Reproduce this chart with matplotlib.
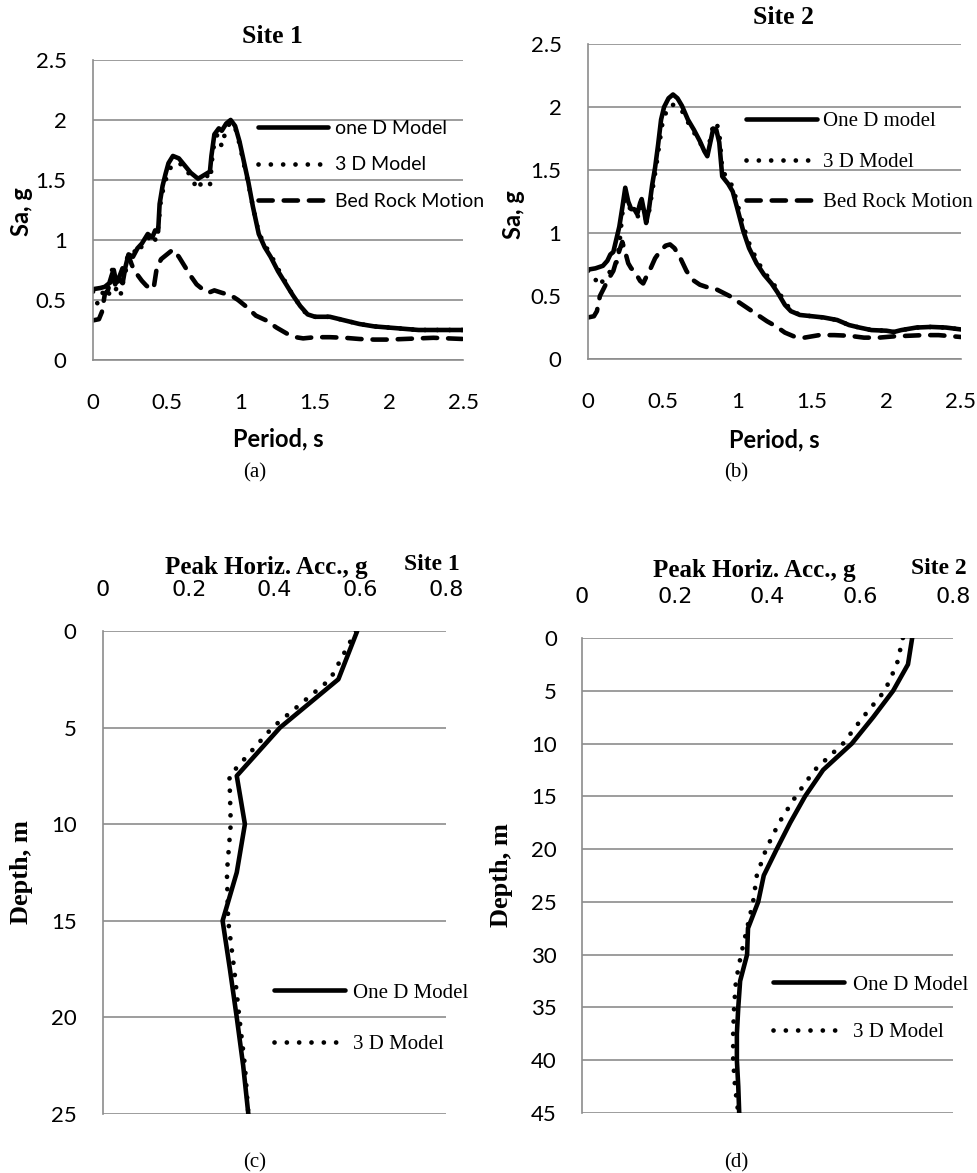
import numpy as np
import matplotlib
matplotlib.use("Agg")
import matplotlib.pyplot as plt
from matplotlib.ticker import FuncFormatter

# ---- data ----
# (a) Site 1 response spectra
a_t_1d = [0, 0.05, 0.08, 0.11, 0.13, 0.15, 0.17, 0.2, 0.22, 0.24, 0.27, 0.3, 0.33, 0.37, 0.4,
          0.42, 0.44, 0.45, 0.47, 0.49, 0.51, 0.54, 0.58, 0.62, 0.66, 0.71, 0.75, 0.79, 0.8,
          0.82, 0.85, 0.87, 0.9, 0.93, 0.96, 0.99, 1.02, 1.05, 1.08, 1.12, 1.16, 1.2, 1.25,
          1.3, 1.35, 1.4, 1.45, 1.5, 1.6, 1.7, 1.8, 1.9, 2.0, 2.1, 2.2, 2.3, 2.4, 2.5]
a_sa_1d = [0.59, 0.60, 0.61, 0.64, 0.72, 0.63, 0.68, 0.64, 0.78, 0.88, 0.86, 0.93, 0.97, 1.05, 1.02,
           1.08, 1.07, 1.30, 1.45, 1.55, 1.64, 1.70, 1.68, 1.62, 1.56, 1.51, 1.54, 1.57, 1.70,
           1.88, 1.93, 1.91, 1.97, 2.00, 1.95, 1.82, 1.65, 1.48, 1.28, 1.05, 0.94, 0.86, 0.74,
           0.64, 0.54, 0.45, 0.38, 0.36, 0.36, 0.33, 0.30, 0.28, 0.27, 0.26, 0.25, 0.25, 0.25, 0.25]
a_t_3d = [0, 0.03, 0.06, 0.09, 0.11, 0.13, 0.15, 0.17, 0.19, 0.21, 0.24, 0.27, 0.3, 0.33, 0.36,
          0.39, 0.42, 0.44, 0.46, 0.48, 0.51, 0.55, 0.6, 0.65, 0.68, 0.71, 0.74, 0.77, 0.79,
          0.81, 0.84, 0.87, 0.9, 0.93, 0.96, 0.99, 1.02, 1.05, 1.08, 1.12, 1.16, 1.2, 1.25,
          1.3, 1.35, 1.4, 1.45, 1.5, 1.6, 1.7, 1.8, 1.9, 2.0, 2.1, 2.2, 2.3, 2.4, 2.5]
a_sa_3d = [0.57, 0.47, 0.55, 0.60, 0.55, 0.76, 0.58, 0.62, 0.55, 0.70, 0.82, 0.92, 0.88, 0.95, 0.97,
           1.05, 1.00, 1.10, 1.35, 1.45, 1.58, 1.64, 1.63, 1.55, 1.48, 1.42, 1.50, 1.54, 1.45,
           1.75, 1.88, 1.78, 1.93, 1.98, 1.94, 1.80, 1.63, 1.47, 1.28, 1.06, 0.96, 0.88, 0.76,
           0.65, 0.54, 0.45, 0.37, 0.36, 0.36, 0.33, 0.30, 0.28, 0.27, 0.26, 0.25, 0.25, 0.25, 0.25]
a_t_bed = [0, 0.04, 0.06, 0.08, 0.1, 0.12, 0.14, 0.16, 0.18, 0.21, 0.24, 0.26, 0.28, 0.3, 0.33,
           0.36, 0.39, 0.41, 0.43, 0.46, 0.5, 0.54, 0.58, 0.62, 0.66, 0.7, 0.74, 0.78, 0.82,
           0.87, 0.93, 0.98, 1.04, 1.1, 1.17, 1.24, 1.31, 1.37, 1.42, 1.5, 1.6, 1.7, 1.8, 1.9,
           2.0, 2.1, 2.2, 2.3, 2.4, 2.5]
a_sa_bed = [0.33, 0.34, 0.40, 0.55, 0.58, 0.66, 0.75, 0.63, 0.70, 0.80, 0.87, 0.80, 0.74, 0.71, 0.66,
            0.62, 0.59, 0.60, 0.76, 0.84, 0.88, 0.92, 0.86, 0.78, 0.70, 0.63, 0.59, 0.56, 0.58,
            0.56, 0.54, 0.50, 0.44, 0.37, 0.33, 0.27, 0.22, 0.19, 0.18, 0.19, 0.19, 0.185, 0.175, 0.17,
            0.17, 0.175, 0.18, 0.185, 0.18, 0.175]

# (b) Site 2 response spectra
b_t_1d = [0, 0.05, 0.1, 0.13, 0.15, 0.17, 0.19, 0.21, 0.23, 0.25, 0.27, 0.29, 0.31, 0.33, 0.35,
          0.36, 0.38, 0.39, 0.41, 0.43, 0.45, 0.47, 0.49, 0.51, 0.54, 0.57, 0.6, 0.63, 0.67,
          0.71, 0.75, 0.78, 0.8, 0.82, 0.84, 0.86, 0.88, 0.9, 0.94, 0.97, 1.0, 1.04, 1.08,
          1.13, 1.18, 1.23, 1.27, 1.32, 1.36, 1.42, 1.5, 1.58, 1.67, 1.75, 1.82, 1.9, 2.0,
          2.05, 2.1, 2.2, 2.3, 2.4, 2.5]
b_sa_1d = [0.71, 0.72, 0.74, 0.78, 0.83, 0.85, 0.95, 1.05, 1.20, 1.36, 1.25, 1.19, 1.19, 1.15, 1.24,
           1.27, 1.15, 1.08, 1.20, 1.38, 1.52, 1.70, 1.90, 2.00, 2.07, 2.10, 2.07, 2.01, 1.90,
           1.82, 1.73, 1.65, 1.61, 1.72, 1.83, 1.82, 1.72, 1.45, 1.39, 1.33, 1.20, 1.02, 0.88,
           0.76, 0.67, 0.60, 0.53, 0.43, 0.38, 0.35, 0.34, 0.33, 0.31, 0.27, 0.25, 0.23, 0.225,
           0.215, 0.23, 0.25, 0.255, 0.25, 0.235]
b_t_3d = [0, 0.04, 0.07, 0.1, 0.13, 0.16, 0.19, 0.21, 0.23, 0.25, 0.27, 0.29, 0.32, 0.34, 0.36,
          0.38, 0.4, 0.42, 0.44, 0.46, 0.48, 0.5, 0.53, 0.56, 0.6, 0.63, 0.67, 0.71, 0.75,
          0.78, 0.8, 0.82, 0.84, 0.86, 0.88, 0.9, 0.94, 0.97, 1.0, 1.04, 1.08, 1.13, 1.18,
          1.23, 1.27, 1.32, 1.36, 1.42, 1.5, 1.58, 1.67, 1.75, 1.82, 1.9, 2.0, 2.05, 2.1,
          2.2, 2.3, 2.4, 2.5]
b_sa_3d = [0.70, 0.66, 0.58, 0.62, 0.68, 0.70, 0.76, 0.90, 1.15, 1.32, 1.22, 1.18, 1.17, 1.12, 1.25,
           1.12, 1.10, 1.25, 1.40, 1.55, 1.72, 1.88, 1.98, 2.02, 2.01, 1.97, 1.88, 1.80, 1.72,
           1.66, 1.63, 1.75, 1.86, 1.88, 1.80, 1.50, 1.42, 1.37, 1.24, 1.06, 0.92, 0.79, 0.69,
           0.62, 0.55, 0.45, 0.39, 0.35, 0.34, 0.33, 0.31, 0.27, 0.25, 0.23, 0.225, 0.215, 0.23,
           0.25, 0.255, 0.25, 0.235]
b_t_bed = [0, 0.04, 0.06, 0.08, 0.11, 0.13, 0.15, 0.17, 0.19, 0.21, 0.23, 0.25, 0.27, 0.29, 0.31,
           0.33, 0.35, 0.37, 0.39, 0.42, 0.45, 0.48, 0.52, 0.55, 0.58, 0.62, 0.66, 0.7, 0.75,
           0.8, 0.85, 0.9, 0.95, 1.0, 1.05, 1.1, 1.15, 1.2, 1.26, 1.32, 1.38, 1.45, 1.55, 1.65,
           1.75, 1.85, 1.95, 2.05, 2.15, 2.25, 2.35, 2.45, 2.5]
b_sa_bed = [0.33, 0.34, 0.38, 0.50, 0.57, 0.62, 0.66, 0.70, 0.78, 0.86, 0.93, 0.85, 0.76, 0.72, 0.70,
            0.66, 0.62, 0.60, 0.65, 0.72, 0.80, 0.85, 0.90, 0.91, 0.88, 0.80, 0.70, 0.63, 0.59,
            0.57, 0.56, 0.53, 0.50, 0.46, 0.42, 0.38, 0.34, 0.30, 0.26, 0.21, 0.18, 0.17, 0.19, 0.19,
            0.185, 0.17, 0.17, 0.18, 0.185, 0.19, 0.19, 0.18, 0.175]

# (c) Site 1 peak horizontal acceleration profile
c_depth = [0, 2.5, 5, 7.5, 10, 12.5, 15, 17.5, 20, 22.5, 25]
c_pha_1d = [0.593, 0.549, 0.413, 0.312, 0.331, 0.312, 0.279, 0.296, 0.312, 0.327, 0.339]
c_pha_3d = [0.590, 0.530, 0.395, 0.295, 0.298, 0.289, 0.292, 0.306, 0.318, 0.331, 0.339]

# (d) Site 2 peak horizontal acceleration profile
d_depth = [0, 2.5, 5, 7.5, 10, 12.5, 15, 17.5, 20, 22.5, 25, 27.5, 30, 32.5, 35, 37.5, 40, 42.5, 45]
d_pha_1d = [0.712, 0.703, 0.671, 0.628, 0.582, 0.520, 0.481, 0.449, 0.420, 0.392, 0.380, 0.358,
            0.356, 0.341, 0.337, 0.334, 0.334, 0.337, 0.339]
d_pha_3d = [0.692, 0.679, 0.653, 0.606, 0.563, 0.502, 0.461, 0.425, 0.397, 0.377, 0.369, 0.356,
            0.343, 0.332, 0.328, 0.326, 0.326, 0.330, 0.337]

# ---- styles ----
SANS = "Lato"
SERIF = "Liberation Serif"
GRID = "#8c8c8c"
solid_kw = dict(color="black", lw=3.3, solid_capstyle="round", solid_joinstyle="round")
dot_kw = dict(color="black", lw=3.4, linestyle=(0, (0.01, 2.6)), dash_capstyle="round")
dash_kw = dict(color="black", lw=3.3, linestyle=(0, (3.1, 2.4)), dash_capstyle="round")

fmt = FuncFormatter(lambda v, p: "%g" % round(v, 2))


def style_axes(ax):
    for s in ["top", "right"]:
        ax.spines[s].set_visible(False)
    ax.spines["left"].set_color(GRID)
    ax.spines["left"].set_linewidth(1.2)
    ax.spines["bottom"].set_color(GRID)
    ax.spines["bottom"].set_linewidth(1.2)
    ax.yaxis.grid(True, color=GRID, lw=1.2)
    ax.set_axisbelow(True)
    ax.tick_params(length=0, labelsize=16)
    for lab in ax.get_xticklabels() + ax.get_yticklabels():
        lab.set_family(SANS)
    ax.xaxis.set_major_formatter(fmt)
    ax.yaxis.set_major_formatter(fmt)


fig = plt.figure(figsize=(9.77, 11.73), dpi=100)

# ---- (a) ----
ax1 = fig.add_axes([0.0952, 0.6931, 0.3787, 0.2558])
l1, = ax1.plot(a_t_1d, a_sa_1d, **solid_kw, label="one D Model")
l2, = ax1.plot(a_t_3d, a_sa_3d, **dot_kw, label="3 D Model")
l3, = ax1.plot(a_t_bed, a_sa_bed, **dash_kw, label="Bed Rock Motion")
ax1.set_xlim(0, 2.5)
ax1.set_ylim(0, 2.5)
ax1.set_xticks(np.arange(0, 2.51, 0.5))
ax1.set_yticks(np.arange(0, 2.51, 0.5))
style_axes(ax1)
ax1.tick_params(axis="x", pad=24)
ax1.tick_params(axis="y", pad=19)
ax1.set_xlabel("Period, s", family=SANS, fontsize=17, fontweight="bold")
ax1.xaxis.set_label_coords(0.5, -0.225)
ax1.set_ylabel("Sa, g", family=SANS, fontsize=17, fontweight="bold")
ax1.yaxis.set_label_coords(-0.162, 0.493)
ax1.text(0.484, 1.077, "Site 1", transform=ax1.transAxes, ha="center", va="center",
         family=SERIF, fontsize=18.5, fontweight="bold")
ax1.legend(handles=[l1, l2, l3], loc="upper left", bbox_to_anchor=(0.446, 0.80),
           frameon=False, borderpad=0, borderaxespad=0, handlelength=3.6,
           handletextpad=0.35, labelspacing=1.0, prop=dict(family=SANS, size=14))

# ---- (b) ----
ax2 = fig.add_axes([0.6018, 0.6939, 0.3818, 0.2685])
m1, = ax2.plot(b_t_1d, b_sa_1d, **solid_kw, label="One D model")
m2, = ax2.plot(b_t_3d, b_sa_3d, **dot_kw, label="3 D Model")
m3, = ax2.plot(b_t_bed, b_sa_bed, **dash_kw, label="Bed Rock Motion")
ax2.set_xlim(0, 2.5)
ax2.set_ylim(0, 2.5)
ax2.set_xticks(np.arange(0, 2.51, 0.5))
ax2.set_yticks(np.arange(0, 2.51, 0.5))
style_axes(ax2)
ax2.tick_params(axis="x", pad=24)
ax2.tick_params(axis="y", pad=19)
ax2.set_xlabel("Period, s", family=SANS, fontsize=17, fontweight="bold")
ax2.xaxis.set_label_coords(0.5, -0.219)
ax2.set_ylabel("Sa, g", family=SANS, fontsize=17, fontweight="bold")
ax2.yaxis.set_label_coords(-0.169, 0.457)
ax2.text(0.523, 1.083, "Site 2", transform=ax2.transAxes, ha="center", va="center",
         family=SERIF, fontsize=18.5, fontweight="bold")
ax2.legend(handles=[m1, m2, m3], loc="upper left", bbox_to_anchor=(0.425, 0.785),
           frameon=False, borderpad=0, borderaxespad=0, handlelength=3.4,
           handletextpad=0.25, labelspacing=1.0, prop=dict(family=SERIF, size=15))

# ---- (c) ----
ax3 = fig.add_axes([0.1054, 0.0503, 0.3511, 0.4118])
n1, = ax3.plot(c_pha_1d, c_depth, **solid_kw, label="One D Model")
n2, = ax3.plot(c_pha_3d, c_depth, **dot_kw, label="3 D Model")
ax3.set_xlim(0, 0.8)
ax3.set_ylim(25, 0)
ax3.set_xticks(np.arange(0, 0.81, 0.2))
ax3.set_yticks(np.arange(0, 25.1, 5))
style_axes(ax3)
ax3.spines["bottom"].set_visible(False)
ax3.xaxis.set_ticks_position("top")
ax3.xaxis.set_label_position("top")
ax3.tick_params(axis="x", pad=22)
ax3.tick_params(axis="y", pad=19)
ax3.set_xlabel("Peak Horiz. Acc., g", family=SERIF, fontsize=18, fontweight="bold")
ax3.xaxis.set_label_coords(0.475, 1.118)
ax3.set_ylabel("Depth, m", family=SERIF, fontsize=19, fontweight="bold")
ax3.yaxis.set_label_coords(-0.204, 0.5)
ax3.text(0.959, 1.138, "Site 1", transform=ax3.transAxes, ha="center", va="center",
         family=SERIF, fontsize=17, fontweight="bold")
ax3.legend(handles=[n1, n2], loc="upper left", bbox_to_anchor=(0.50, 0.271),
           frameon=False, borderpad=0, borderaxespad=0, handlelength=3.4,
           handletextpad=0.35, labelspacing=1.54, prop=dict(family=SERIF, size=15))

# ---- (d) ----
ax4 = fig.add_axes([0.5957, 0.0512, 0.3797, 0.4049])
p1, = ax4.plot(d_pha_1d, d_depth, **solid_kw, label="One D Model")
p2, = ax4.plot(d_pha_3d, d_depth, **dot_kw, label="3 D Model")
ax4.set_xlim(0, 0.8)
ax4.set_ylim(45, 0)
ax4.set_xticks(np.arange(0, 0.81, 0.2))
ax4.set_yticks(np.arange(0, 45.1, 5))
style_axes(ax4)
ax4.spines["bottom"].set_visible(False)
ax4.xaxis.set_ticks_position("top")
ax4.xaxis.set_label_position("top")
ax4.tick_params(axis="x", pad=22)
ax4.tick_params(axis="y", pad=18)
ax4.set_xlabel("Peak Horiz. Acc., g", family=SERIF, fontsize=18, fontweight="bold")
ax4.xaxis.set_label_coords(0.464, 1.128)
ax4.set_ylabel("Depth, m", family=SERIF, fontsize=19, fontweight="bold")
ax4.yaxis.set_label_coords(-0.186, 0.5)
ax4.text(0.962, 1.147, "Site 2", transform=ax4.transAxes, ha="center", va="center",
         family=SERIF, fontsize=17, fontweight="bold")
ax4.legend(handles=[p1, p2], loc="upper left", bbox_to_anchor=(0.516, 0.29),
           frameon=False, borderpad=0, borderaxespad=0, handlelength=3.4,
           handletextpad=0.4, labelspacing=1.34, prop=dict(family=SERIF, size=15))

# ---- captions ----
for x, y, s in [(255, 473, "(a)"), (736, 473, "(b)"), (255, 1163, "(c)"), (736, 1163, "(d)")]:
    fig.text(x / 977, 1 - y / 1173, s, ha="center", va="center", family=SERIF, fontsize=15)

fig.savefig("out.png", dpi=100)
